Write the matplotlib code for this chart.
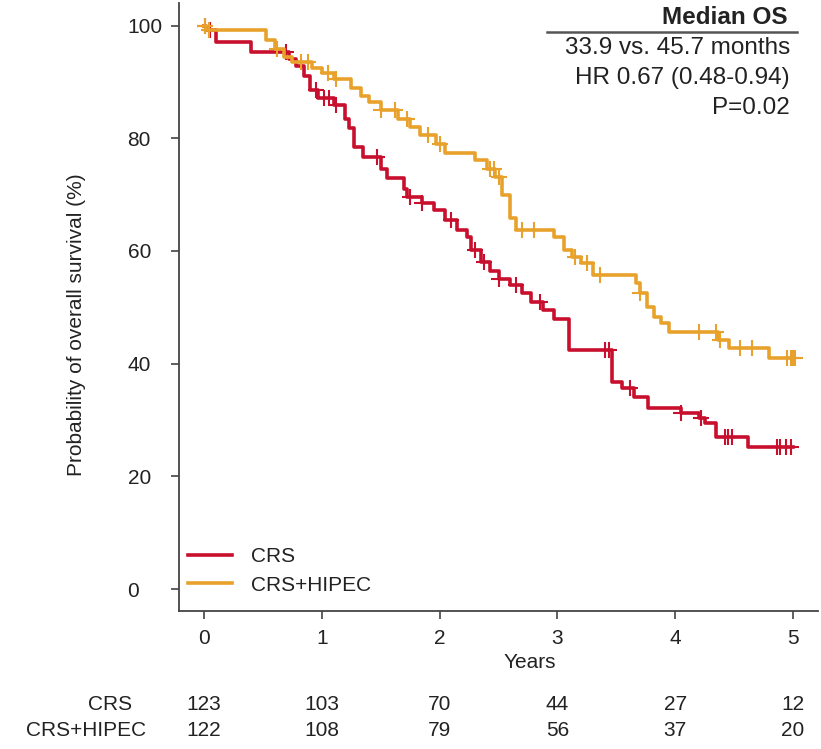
import matplotlib
matplotlib.use('Agg')
import matplotlib.pyplot as plt
from matplotlib.lines import Line2D
from matplotlib.transforms import blended_transform_factory
import numpy as np

plt.rcParams['font.family'] = ['Liberation Sans', 'DejaVu Sans']

# Kaplan-Meier steps (years, survival %)
crs_t = [0, 0.02, 0.10, 0.40, 0.72, 0.78, 0.85, 0.90, 0.97, 1.10, 1.20, 1.23, 1.27, 1.35,
         1.50, 1.55, 1.70, 1.72, 1.85, 1.95, 2.05, 2.15, 2.23, 2.27, 2.35, 2.43, 2.50,
         2.60, 2.70, 2.78, 2.88, 2.97, 3.10, 3.46, 3.55, 3.65, 3.77, 4.05, 4.20, 4.25,
         4.35, 4.62, 5.0]
crs_s = [100, 99.2, 97.1, 95.3, 94.0, 92.8, 91.0, 88.6, 87.1, 85.9, 83.5, 81.8, 78.4, 76.7,
         74.5, 72.9, 71.0, 69.6, 68.5, 67.3, 65.5, 63.7, 62.5, 60.2, 58.0, 56.5, 55.0,
         53.9, 52.5, 51.0, 49.5, 48.0, 42.4, 36.7, 35.7, 34.1, 32.1, 31.2, 30.4, 29.5,
         27.0, 25.2, 25.2]
crs_cens = [0.01, 0.05, 0.70, 0.95, 1.02, 1.06, 1.12, 1.47, 1.75, 1.85, 2.10, 2.30, 2.38,
            2.50, 2.65, 2.85, 3.40, 3.44, 3.62, 4.05, 4.22, 4.42, 4.45, 4.48, 4.86, 4.89,
            4.94, 4.98]

hip_t = [0, 0.02, 0.53, 0.60, 0.68, 0.75, 0.92, 1.00, 1.10, 1.25, 1.33, 1.40, 1.50, 1.65,
         1.75, 1.83, 1.97, 2.05, 2.30, 2.40, 2.47, 2.53, 2.60, 2.65, 2.97, 3.06, 3.12,
         3.20, 3.30, 3.67, 3.70, 3.76, 3.82, 3.88, 3.95, 4.36, 4.46, 4.80, 5.0]
hip_s = [100, 99.2, 97.5, 95.8, 94.5, 93.5, 92.5, 91.5, 90.5, 89.0, 87.5, 86.5, 85.0, 83.5,
         82.0, 80.5, 79.0, 77.4, 76.1, 74.5, 73.1, 69.9, 65.8, 63.7, 62.5, 60.2, 58.9,
         57.8, 55.7, 54.3, 52.5, 50.0, 48.3, 47.2, 45.6, 44.2, 42.8, 41.0, 41.0]
hip_cens = [0.01, 0.04, 0.62, 0.82, 0.88, 1.05, 1.12, 1.50, 1.62, 1.72, 1.90, 2.00, 2.43,
            2.46, 2.50, 2.70, 2.80, 3.15, 3.25, 3.36, 3.70, 4.20, 4.35, 4.38, 4.55, 4.65,
            4.95, 4.98, 5.00, 5.02]

groups = ['CRS', 'CRS+HIPEC']
colors = ['#C8102E', '#E8A22C']
xticks = [0, 1, 2, 3, 4, 5]
yticks = [0, 20, 40, 60, 80, 100]
at_risk = {'CRS': [123, 103, 70, 44, 27, 12],
           'CRS+HIPEC': [122, 108, 79, 56, 37, 20]}
stats = ['33.9 vs. 45.7 months', 'HR 0.67 (0.48-0.94)', 'P=0.02']

W, H = 821, 749
fig = plt.figure(figsize=(W/100, H/100), dpi=100)
ax = fig.add_axes([179/W, 1-611/H, (818-179)/W, (611-3)/H])

spine_col = '#444444'
txt_col = '#222222'
font = 15

for t, s, cens, c, lab in [(crs_t, crs_s, crs_cens, colors[0], groups[0]),
                           (hip_t, hip_s, hip_cens, colors[1], groups[1])]:
    t, s = np.asarray(t), np.asarray(s)
    ax.step(t, s, where='post', color=c, lw=2.6, label=lab, zorder=3)
    idx = np.searchsorted(t, cens, side='right') - 1
    ax.plot(cens, s[idx], ls='none', marker='+', ms=11, mew=1.5, color=c, zorder=3)

ax.set_xlim(-0.212, 5.212)
ax.set_ylim(-3.9, 104.0)
ax.set_xticks(xticks)
ax.set_yticks(yticks)
for side in ['top', 'right']:
    ax.spines[side].set_visible(False)
for side in ['left', 'bottom']:
    ax.spines[side].set_color(spine_col)
    ax.spines[side].set_linewidth(1.3)
ax.tick_params(axis='both', colors=spine_col, length=6, width=1.2, labelsize=font,
               labelcolor=txt_col)
ax.tick_params(axis='x', pad=7)
ax.tick_params(axis='y', pad=31)
for lbl in ax.get_yticklabels():
    lbl.set_horizontalalignment('left')

fig.text(530/W, 1-663/H, 'Years', ha='center', va='center', fontsize=font, color=txt_col)
fig.text(76/W, 1-325/H, 'Probability of overall survival (%)', ha='center', va='center',
         rotation=90, fontsize=font, color=txt_col)

leg = ax.legend(loc='lower left', bbox_to_anchor=(190/W - 0.012, 1-603/H),
                bbox_transform=fig.transFigure, frameon=False, fontsize=font,
                handlelength=2.1, handletextpad=0.9, labelspacing=0.45, borderaxespad=0)
for txt in leg.get_texts():
    txt.set_color(txt_col)

# median OS box
fig.text(788/W, 1-17/H, 'Median OS', ha='right', va='center', fontsize=17.5,
         fontweight='bold', color=txt_col)
fig.add_artist(Line2D([547/W, 797/W], [1-32/H, 1-32/H], color='#555555', lw=1.8,
                      transform=fig.transFigure))
for i, s in enumerate(stats):
    fig.text(790/W, 1-(48 + 30*i)/H, s, ha='right', va='center', fontsize=17.5, color=txt_col)

# numbers at risk
tr = blended_transform_factory(ax.transData, fig.transFigure)
row_y = [705, 731]
row_right = [132, 146]
for g, yy, xr in zip(groups, row_y, row_right):
    fig.text(xr/W, 1-yy/H, g, ha='right', va='center', fontsize=font, color=txt_col)
    for x, n in zip(xticks, at_risk[g]):
        ax.text(x, 1-yy/H, str(n), transform=tr, ha='center', va='center',
                fontsize=font, color=txt_col, clip_on=False)

fig.savefig('out.png', dpi=100)
